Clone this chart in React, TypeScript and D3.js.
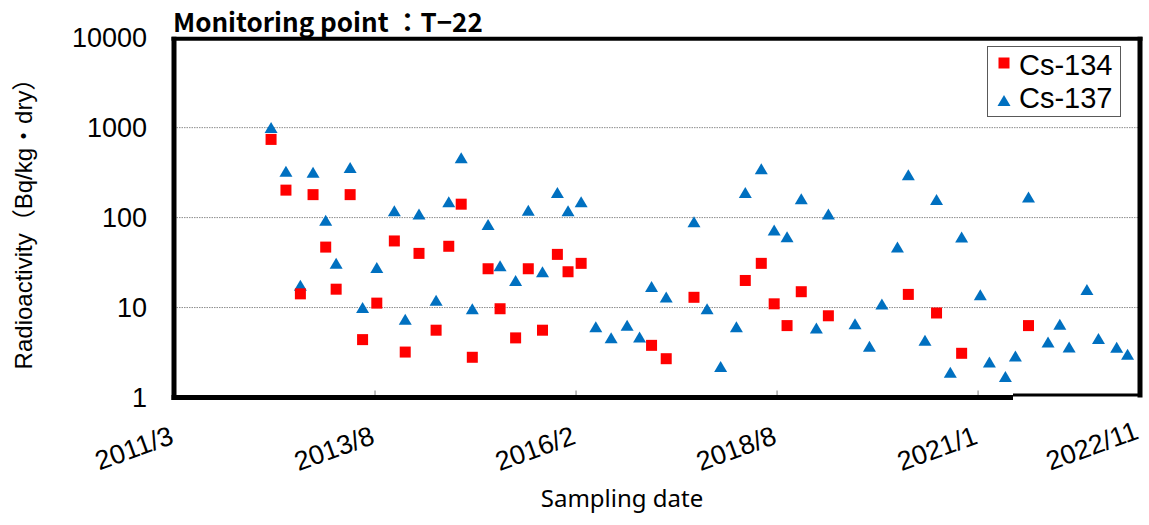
import React from "react";
import * as d3 from "d3";

// ---- data ----
const cs134Dates = [
  "2012-05-11", "2012-07-17", "2012-09-20", "2012-11-16", "2013-01-12", "2013-02-28",
  "2013-05-02", "2013-06-27", "2013-08-30", "2013-11-17", "2014-01-05", "2014-03-08",
  "2014-05-24", "2014-07-20", "2014-09-14", "2014-11-03", "2015-01-13", "2015-03-08",
  "2015-05-17", "2015-07-13", "2015-09-15", "2015-11-21", "2016-01-08", "2016-03-07",
  "2017-01-18", "2017-03-25", "2017-07-28", "2018-03-16", "2018-05-27", "2018-07-24",
  "2018-09-20", "2018-11-23", "2019-03-25", "2020-03-19", "2020-07-24", "2020-11-14",
  "2021-09-11",
];
const cs134Values = [
  740, 202, 14.2, 180, 47, 16,
  180, 4.4, 11.2, 55, 3.2, 40,
  5.6, 48, 141, 2.8, 27, 9.7,
  4.6, 27, 5.6, 39, 25, 31,
  3.8, 2.7, 13, 20, 31, 11,
  6.3, 15, 8.1, 14, 8.7, 3.1,
  6.3,
];
const cs137Dates = [
  "2012-05-11", "2012-07-17", "2012-09-20", "2012-11-16", "2013-01-12", "2013-02-28",
  "2013-05-02", "2013-06-27", "2013-08-30", "2013-11-17", "2014-01-05", "2014-03-08",
  "2014-05-24", "2014-07-20", "2014-09-14", "2014-11-03", "2015-01-13", "2015-03-08",
  "2015-05-17", "2015-07-13", "2015-09-15", "2015-11-21", "2016-01-08", "2016-03-07",
  "2016-05-12", "2016-07-20", "2016-09-30", "2016-11-25", "2017-01-18", "2017-03-25",
  "2017-07-28", "2017-09-25", "2017-11-25", "2018-02-04", "2018-03-16", "2018-05-27",
  "2018-07-24", "2018-09-20", "2018-11-23", "2019-01-30", "2019-03-25", "2019-07-23",
  "2019-09-26", "2019-11-21", "2020-01-30", "2020-03-19", "2020-06-02", "2020-07-24",
  "2020-09-24", "2020-11-14", "2021-02-06", "2021-03-19", "2021-05-30", "2021-07-14",
  "2021-09-11", "2021-12-08", "2022-01-30", "2022-03-13", "2022-06-01", "2022-07-23",
  "2022-10-13", "2022-12-01",
];
const cs137Values = [
  990, 324, 17.5, 316, 92, 30.6,
  357, 9.9, 27.6, 118, 7.3, 108,
  11.9, 148, 457, 9.6, 83, 28.8,
  19.7, 119, 24.7, 188, 118, 148,
  6.05, 4.57, 6.26, 4.64, 16.9, 12.9,
  89, 9.6, 2.19, 6.05, 188, 345,
  72, 60.6, 160, 5.85, 108, 6.54,
  3.66, 10.8, 46.4, 296, 4.27, 157,
  1.88, 60, 13.7, 2.45, 1.69, 2.86,
  167, 4.08, 6.43, 3.59, 15.7, 4.46,
  3.57, 2.98,
];

const yTickValues = [1, 10, 100, 1000, 10000];
const yGridValues = [10, 100, 1000];
const xDomainDates = ["2011-03-01", "2023-01-26"];
const xTickDates = ["2011-03-01", "2013-08-22", "2016-02-13", "2018-08-06", "2021-01-27"];
const xTickLabels = ["2011/3", "2013/8", "2016/2", "2018/8", "2021/1"];
const xEndLabel = "2022/11";
const seriesNames = ["Cs-134", "Cs-137"];
const titleText = "Monitoring point ：T−22";
const yTitleText = "Radioactivity（Bq/kg・dry）";
const xTitleText = "Sampling date";

const RED = "#FF0000";
const BLUE = "#0070C0";

const parse = d3.timeParse("%Y-%m-%d");

export default function App() {
  const W = 1149;
  const H = 525;
  const left = 174;
  const right = 1140;
  const top = 37.7;
  const bottom = 397.5;

  const x = d3
    .scaleTime()
    .domain(xDomainDates.map((s) => parse(s) as Date))
    .range([left, right]);
  const y = d3.scaleLog().domain([1, 10000]).range([bottom, top]);

  const tri = "M0,-6 L6.5,5 L-6.5,5 Z";
  const sq = 11;

  const cs137 = cs137Dates.map((d, i) => ({ x: x(parse(d) as Date), y: y(cs137Values[i]) }));
  const cs134 = cs134Dates.map((d, i) => ({ x: x(parse(d) as Date), y: y(cs134Values[i]) }));

  const tickFont = "'Liberation Sans', Arial, 'Noto Sans CJK JP', sans-serif";
  const breakX = 1013;

  return (
    <svg
      width={W}
      height={H}
      style={{ position: "absolute", left: 0, top: 0, background: "#fff" }}
      xmlns="http://www.w3.org/2000/svg"
    >
      <rect x={0} y={0} width={W} height={H} fill="#fff" />
      {/* grid */}
      {yGridValues.map((v) => (
        <line
          key={"g" + v}
          x1={left}
          x2={right}
          y1={y(v)}
          y2={y(v)}
          stroke="#8c8c8c"
          strokeWidth={1}
          strokeDasharray="1.5 1"
        />
      ))}
      {/* bottom ticks */}
      {xTickDates.slice(1).map((d) => (
        <line
          key={"t" + d}
          x1={x(parse(d) as Date)}
          x2={x(parse(d) as Date)}
          y1={bottom - 7}
          y2={bottom}
          stroke="#7f7f7f"
          strokeWidth={1}
        />
      ))}
      {/* markers */}
      {cs137.map((p, i) => (
        <path key={"b" + i} d={tri} transform={`translate(${p.x},${p.y})`} fill={BLUE} />
      ))}
      {cs134.map((p, i) => (
        <rect key={"r" + i} x={p.x - sq / 2} y={p.y - sq / 2} width={sq} height={sq} fill={RED} />
      ))}
      {/* frame */}
      <line x1={left - 2.5} x2={right + 2.5} y1={top + 1} y2={top + 1} stroke="#000" strokeWidth={4} />
      <line x1={left} x2={left} y1={top - 1} y2={bottom + 2.5} stroke="#000" strokeWidth={5} />
      <line x1={right} x2={right} y1={top - 1} y2={bottom} stroke="#000" strokeWidth={5} />
      <line x1={left - 2.5} x2={breakX} y1={bottom} y2={bottom} stroke="#000" strokeWidth={5} />
      <line x1={breakX} x2={right} y1={bottom - 2.5} y2={bottom - 2.5} stroke="#000" strokeWidth={3} />
      {/* y tick labels */}
      {yTickValues.map((v) => (
        <text
          key={"yl" + v}
          x={147}
          y={y(v) + 9.7}
          textAnchor="end"
          fontFamily={tickFont}
          fontSize={27}
          fill="#000"
        >
          {String(v)}
        </text>
      ))}
      {/* x tick labels */}
      {xTickDates.map((d, i) => {
        const px = x(parse(d) as Date) + 1;
        const py = 443;
        return (
          <text
            key={"xl" + d}
            x={px}
            y={py}
            textAnchor="end"
            transform={`rotate(-20, ${px}, ${py})`}
            fontFamily={tickFont}
            fontSize={27}
            fill="#000"
          >
            {xTickLabels[i]}
          </text>
        );
      })}
      <text
        x={right}
        y={438}
        textAnchor="end"
        transform={`rotate(-20, ${right}, 438)`}
        fontFamily={tickFont}
        fontSize={27}
        fill="#000"
      >
        {xEndLabel}
      </text>
      {/* axis titles */}
      <text
        x={0}
        y={0}
        transform={`translate(32, 218) rotate(-90)`}
        textAnchor="middle"
        fontFamily={tickFont}
        fontSize={24}
        fill="#000"
      >
        {yTitleText}
      </text>
      <text
        x={622}
        y={507}
        textAnchor="middle"
        fontFamily="'Noto Sans', 'Open Sans', sans-serif"
        fontSize={24}
        fill="#000"
      >
        {xTitleText}
      </text>
      {/* title */}
      <text
        x={173}
        y={31.5}
        fontFamily="'Noto Sans CJK JP', 'Noto Sans', sans-serif"
        fontWeight="bold"
        fontSize={26}
        fill="#000"
      >
        {titleText}
      </text>
      {/* legend */}
      <rect x={987.5} y={46.5} width={133} height={70} fill="#fff" stroke="#595959" strokeWidth={1} />
      <rect x={1004 - sq / 2} y={63 - sq / 2} width={sq} height={sq} fill={RED} />
      <path d={tri} transform="translate(1004,101)" fill={BLUE} />
      <text x={1019} y={75} fontFamily={tickFont} fontSize={29} fill="#000">
        {seriesNames[0]}
      </text>
      <text x={1019} y={108} fontFamily={tickFont} fontSize={29} fill="#000">
        {seriesNames[1]}
      </text>
    </svg>
  );
}
